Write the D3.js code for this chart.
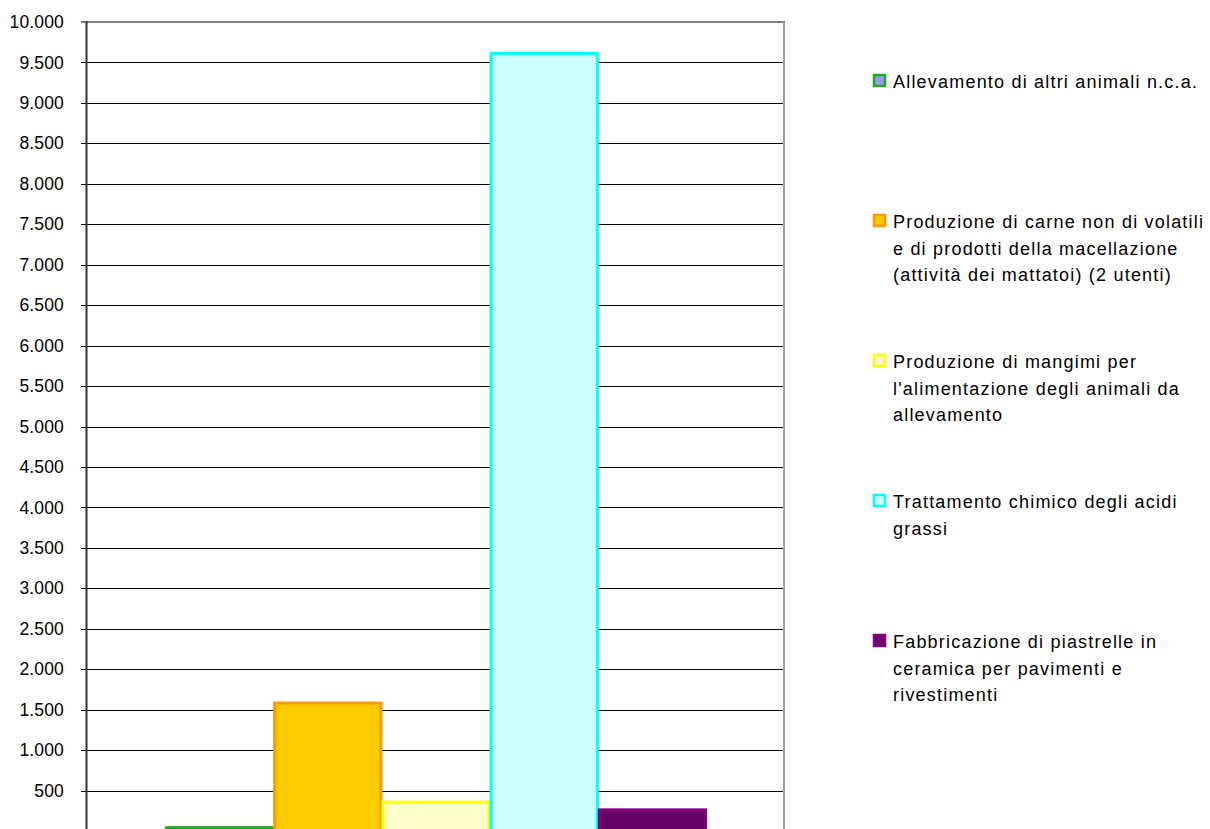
<!DOCTYPE html>
<html>
<head>
<meta charset="utf-8">
<script src="https://cdn.jsdelivr.net/npm/d3@7"></script>
<style>
  html, body { margin: 0; padding: 0; background: #fff; }
  svg { display: block; font-family: "Liberation Sans", Arial, sans-serif; }
</style>
</head>
<body>
<svg id="chart" width="1210" height="829"></svg>
<script>
// Series (one bar each) and their values
const seriesNames = [
  "Allevamento di altri animali n.c.a.",
  "Produzione di carne non di volatili e di prodotti della macellazione (attività dei mattatoi) (2 utenti)",
  "Produzione di mangimi per l'alimentazione degli animali da allevamento",
  "Trattamento chimico degli acidi grassi",
  "Fabbricazione di piastrelle in ceramica per pavimenti e rivestimenti"
];
const seriesValues = [60, 1600, 375, 9630, 280];
const legendLines = [
  ["Allevamento di altri animali n.c.a."],
  ["Produzione di carne non di volatili", "e di prodotti della macellazione", "(attività dei mattatoi) (2 utenti)"],
  ["Produzione di mangimi per", "l'alimentazione degli animali da", "allevamento"],
  ["Trattamento chimico degli acidi", "grassi"],
  ["Fabbricazione di piastrelle in", "ceramica per pavimenti e", "rivestimenti"]
];
const fillColors = ["#9999ff", "#ffcc00", "#ffffcc", "#ccffff", "#660066"];
const strokeColors = ["#22aa22", "#ff9900", "#ffff00", "#00ffff", "#800080"];
const yTicks = d3.range(500, 10001, 500);

const svg = d3.select("#chart");
const plot = { left: 86, right: 784, top: 22, bottom: 831 };

const y = d3.scaleLinear().domain([0, 10000]).range([plot.bottom, plot.top]);
const x = d3.scaleBand().domain(seriesNames).range([165, 706]).padding(0);

const it = d3.formatLocale({ decimal: ",", thousands: ".", grouping: [3], currency: ["", " €"] });
const fmt = it.format(",d");

// Gridlines
svg.append("g")
  .selectAll("line")
  .data(yTicks.filter(v => v < 10000))
  .join("line")
  .attr("x1", plot.left - 5).attr("x2", plot.right)
  .attr("y1", d => Math.round(y(d)) + 0.5).attr("y2", d => Math.round(y(d)) + 0.5)
  .attr("stroke", "#000").attr("stroke-width", 1);

// Plot frame: top and right edges
svg.append("line")
  .attr("x1", plot.left - 5).attr("x2", plot.right + 1)
  .attr("y1", y(10000)).attr("y2", y(10000))
  .attr("stroke", "#808080").attr("stroke-width", 2);
svg.append("line")
  .attr("x1", plot.right).attr("x2", plot.right)
  .attr("y1", y(10000)).attr("y2", 829)
  .attr("stroke", "#a0a0a0").attr("stroke-width", 2);

// Y axis
const yAxis = d3.axisLeft(y).tickValues(yTicks).tickFormat(fmt).tickSize(0).tickPadding(22);
const ga = svg.append("g").attr("transform", `translate(${plot.left},0)`).call(yAxis);
ga.select(".domain").remove();
ga.selectAll("text")
  .attr("font-size", 17.5).attr("fill", "#000")
  .attr("letter-spacing", 0.15)
  .attr("font-family", "Liberation Sans, Arial, sans-serif");
svg.append("line")
  .attr("x1", plot.left + 0.5).attr("x2", plot.left + 0.5)
  .attr("y1", y(10000) - 1).attr("y2", 829)
  .attr("stroke", "#333").attr("stroke-width", 2);

// Bars
svg.append("g")
  .selectAll("rect")
  .data(seriesNames)
  .join("rect")
  .attr("x", d => x(d) + 1.5)
  .attr("width", x.bandwidth() - 2)
  .attr("y", (d, i) => y(seriesValues[i]) + 1.5)
  .attr("height", (d, i) => y(0) - y(seriesValues[i]))
  .attr("fill", (d, i) => fillColors[i])
  .attr("stroke", (d, i) => strokeColors[i])
  .attr("stroke-width", 3);

// Legend
const legendTop = [88, 228, 368, 508, 648];
const lg = svg.append("g");
legendLines.forEach((lines, i) => {
  const g = lg.append("g").attr("transform", `translate(0,${legendTop[i]})`);
  g.append("rect")
    .attr("x", 874).attr("y", -13)
    .attr("width", 11).attr("height", 11)
    .attr("fill", fillColors[i])
    .attr("stroke", strokeColors[i])
    .attr("stroke-width", 2.5);
  const t = g.append("text")
    .attr("x", 893).attr("y", 0)
    .attr("font-size", 18).attr("letter-spacing", 1.2).attr("fill", "#000");
  lines.forEach((ln, j) => {
    t.append("tspan").attr("x", 893).attr("dy", j === 0 ? 0 : 26.5).text(ln);
  });
});
</script>
</body>
</html>
